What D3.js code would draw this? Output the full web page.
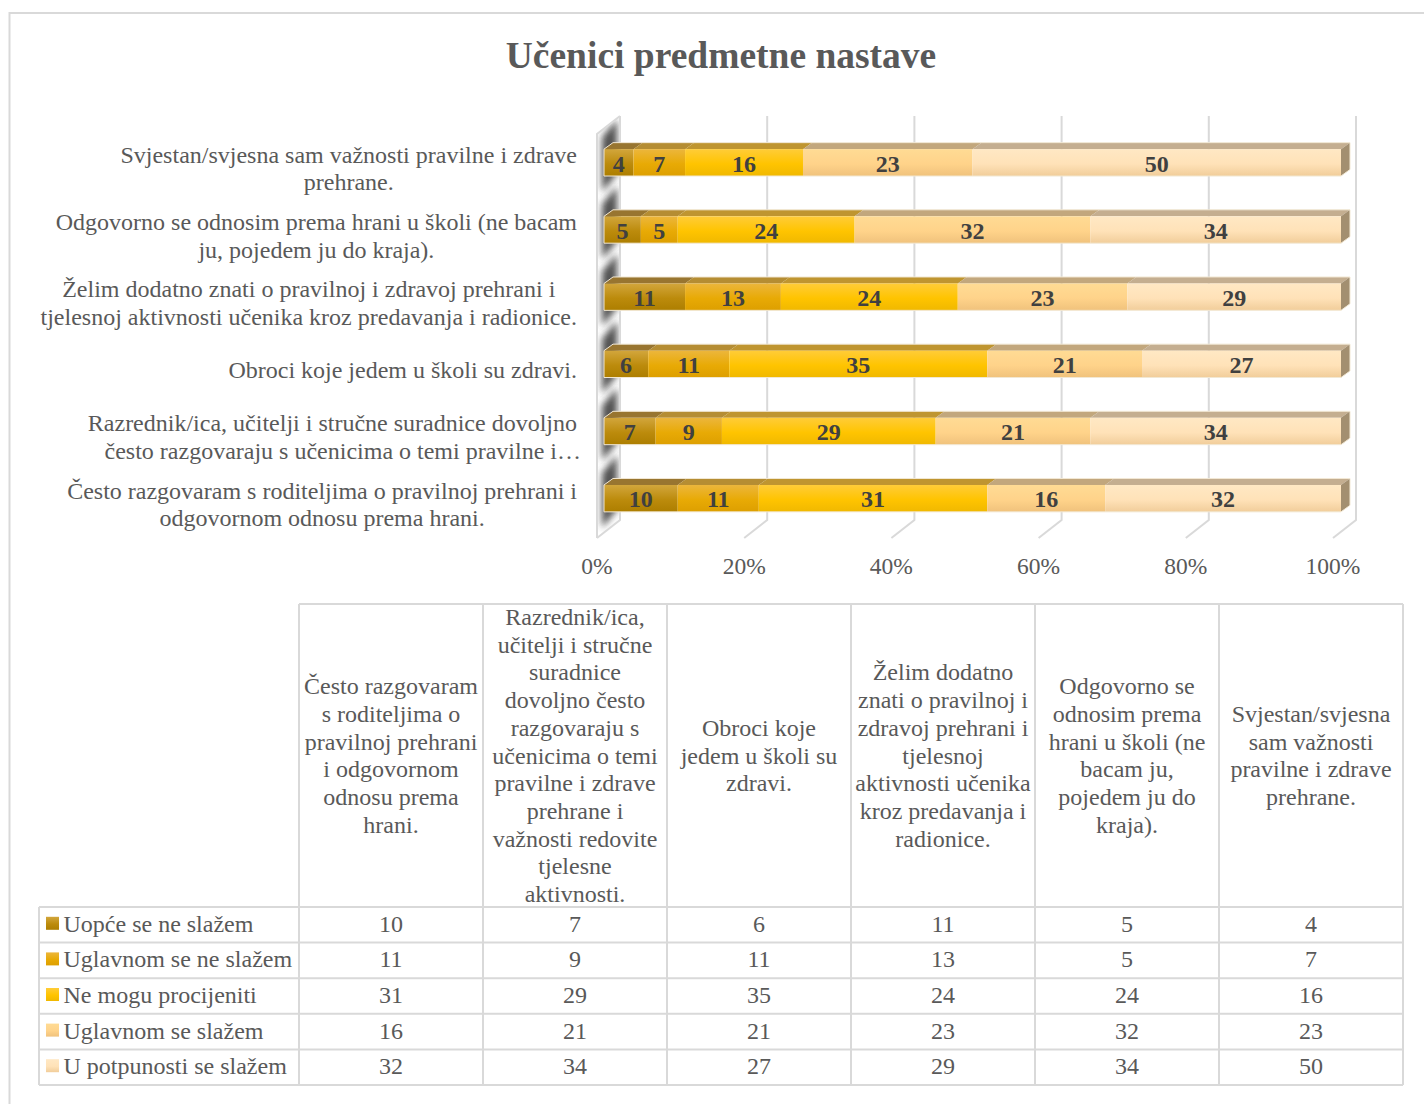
<!DOCTYPE html>
<meta charset="utf-8">
<style>
body { margin: 0; background: #fff; }
text { font-family: "Liberation Serif", serif; fill: #595959; }
.value { font-weight: bold; font-size: 24px; fill: #404040; text-anchor: middle; }
.cat, .cell { font-size: 24px; }
.tick-label { font-size: 23.5px; }
</style>
<body>
<script src="https://d3js.org/d3.v7.min.js"></script>
<script>

var width = 1424,
    height = 1104;

var title = "Učenici predmetne nastave";

var seriesNames = ["Uopće se ne slažem", "Uglavnom se ne slažem", "Ne mogu procijeniti", "Uglavnom se slažem", "U potpunosti se slažem"];

// top to bottom, as drawn in the chart
var uopce = [4, 5, 11, 6, 7, 10];
var uglavnomNe = [7, 5, 13, 11, 9, 11];
var neMogu = [16, 24, 24, 35, 29, 31];
var uglavnomDa = [23, 32, 23, 21, 21, 16];
var potpuno = [50, 34, 29, 27, 34, 32];
var seriesValues = [uopce, uglavnomNe, neMogu, uglavnomDa, potpuno];

var catLines = [
  ["Svjestan/svjesna sam važnosti pravilne i zdrave", "prehrane."],
  ["Odgovorno se odnosim prema hrani u školi (ne bacam", "ju, pojedem ju do kraja)."],
  ["Želim dodatno znati o pravilnoj i zdravoj prehrani i", "tjelesnoj aktivnosti učenika kroz predavanja i radionice."],
  ["Obroci koje jedem u školi su zdravi."],
  ["Razrednik/ica, učitelji i stručne suradnice dovoljno", "često razgovaraju s učenicima o temi pravilne i…"],
  ["Često razgovaram s roditeljima o pravilnoj prehrani i", "odgovornom odnosu prema hrani."]
];

// table columns run bottom to top of the chart
var headerLines = [
  ["Često razgovaram", "s roditeljima o", "pravilnoj prehrani", "i odgovornom", "odnosu prema", "hrani."],
  ["Razrednik/ica,", "učitelji i stručne", "suradnice", "dovoljno često", "razgovaraju s", "učenicima o temi", "pravilne i zdrave", "prehrane i", "važnosti redovite", "tjelesne", "aktivnosti."],
  ["Obroci koje", "jedem u školi su", "zdravi."],
  ["Želim dodatno", "znati o pravilnoj i", "zdravoj prehrani i", "tjelesnoj", "aktivnosti učenika", "kroz predavanja i", "radionice."],
  ["Odgovorno se", "odnosim prema", "hrani u školi (ne", "bacam ju,", "pojedem ju do", "kraja)."],
  ["Svjestan/svjesna", "sam važnosti", "pravilne i zdrave", "prehrane."]
];

var ticks = [0, 20, 40, 60, 80, 100];

var frontColors = [
  ["#d2a63c", "#bc8b0c", "#ad7e00"],
  ["#ecb63c", "#e8aa05", "#dd9f00"],
  ["#ffcc38", "#ffc400", "#f0b800"],
  ["#ffdb94", "#ffd38a", "#f0c27c"],
  ["#ffe8c4", "#ffe2b8", "#f1cd9a"]
];
var topColors = ["#987530", "#b58d33", "#bf9530", "#c2a77d", "#c4ae90"];

var svg = d3.select("body").append("svg")
    .attr("width", width)
    .attr("height", height)
    .style("display", "block");

var defs = svg.append("defs");

frontColors.forEach(function(c, i) {
  var g = defs.append("linearGradient").attr("id", "front" + i)
      .attr("x1", 0).attr("y1", 0).attr("x2", 0).attr("y2", 1);
  g.append("stop").attr("offset", "0").attr("stop-color", c[0]);
  g.append("stop").attr("offset", "0.55").attr("stop-color", c[1]);
  g.append("stop").attr("offset", "1").attr("stop-color", c[2]);
});

defs.append("filter").attr("id", "blur").attr("x", "-50%").attr("y", "-50%").attr("width", "200%").attr("height", "200%")
  .append("feGaussianBlur").attr("stdDeviation", 3.5);

// chart frame
svg.append("path")
    .attr("d", "M9.5,1104V13H1424")
    .attr("fill", "none")
    .attr("stroke", "#d9d9d9")
    .attr("stroke-width", 2);

svg.append("text")
    .attr("x", 721)
    .attr("y", 68)
    .attr("text-anchor", "middle")
    .style("font-size", "37.5px")
    .style("font-weight", "bold")
    .text(title);

// x is the front edge of the bars, the axis sits on the floor a bit to the left
var x = d3.scaleLinear().domain([0, 100]).range([604, 1341]);
var axisX = d3.scaleLinear().domain([0, 100]).range([597, 1333]);
var y = d3.scaleBand().domain(d3.range(6)).range([129, 532]).paddingInner(0.6).paddingOuter(0.3);

var dx = 9, dy = -6.5;     // bar depth
var wallDx = 23, wallDy = -18; // floor depth

var floorBottom = 538, wallTop = 134;

// left wall
var wall = svg.append("g");
wall.append("clipPath").attr("id", "wallClip").append("path")
    .attr("d", "M" + axisX(0) + "," + wallTop + "L" + (axisX(0) + wallDx) + "," + (wallTop + wallDy) +
      "V" + (floorBottom + wallDy) + "L" + axisX(0) + "," + floorBottom + "Z");

// bar shadows run along the slant of the wall
wall.append("g").attr("clip-path", "url(#wallClip)")
  .selectAll("path").data(d3.range(6)).enter().append("path")
    .attr("d", function(d) {
      var left = axisX(0) + 5, right = axisX(0) + wallDx - 3;
      var top = y(d) - 12, bottom = y(d) + y.bandwidth() + 16;
      return "M" + left + "," + top + "L" + right + "," + (top + wallDy) +
        "V" + (bottom + wallDy) + "L" + left + "," + bottom + "Z";
    })
    .attr("fill", "#3c3c3c")
    .attr("opacity", 0.9)
    .attr("filter", "url(#blur)");

// grid: back wall line plus the slant across the floor
svg.append("g").selectAll("path").data(ticks).enter().append("path")
    .attr("d", function(d) {
      return "M" + (axisX(d) + wallDx) + "," + (wallTop + wallDy) +
        "V" + (floorBottom + wallDy) + "L" + axisX(d) + "," + floorBottom;
    })
    .attr("fill", "none")
    .attr("stroke", "#d9d9d9")
    .attr("stroke-width", 2);

svg.append("path")
    .attr("d", "M" + axisX(0) + "," + floorBottom + "V" + wallTop + "L" + (axisX(0) + wallDx) + "," + (wallTop + wallDy))
    .attr("fill", "none")
    .attr("stroke", "#d9d9d9")
    .attr("stroke-width", 2);

// stacked bars
var rows = svg.append("g").selectAll("g").data(d3.range(6)).enter().append("g");

rows.each(function(row) {
  var g = d3.select(this), start = 0, top = y(row), bw = y.bandwidth();
  seriesValues.forEach(function(values, i) {
    var v = values[row], x0 = x(start), x1 = x(start + v);
    g.append("path")
        .attr("d", "M" + x0 + "," + top + "L" + (x0 + dx) + "," + (top + dy) + "H" + (x1 + dx) + "L" + x1 + "," + top + "Z")
        .attr("fill", topColors[i]);
    g.append("rect")
        .attr("x", x0)
        .attr("y", top)
        .attr("width", x1 - x0)
        .attr("height", bw)
        .attr("fill", "url(#front" + i + ")");
    start += v;
  });
  g.append("path")
      .attr("d", "M" + x(100) + "," + top + "l" + dx + "," + dy + "v" + bw + "l" + (-dx) + "," + (-dy) + "Z")
      .attr("fill", "#a38f70");
  // pale rim round the bar
  g.append("path")
      .attr("d", "M" + x(0) + "," + top + "L" + (x(0) + dx) + "," + (top + dy) + "H" + (x(100) + dx) + "v" + bw +
        "L" + x(100) + "," + (top + bw) + "H" + x(0) + "Z")
      .attr("fill", "none")
      .attr("stroke", "#f2e8d4")
      .attr("stroke-width", 1);
  // labels go on top so a neighbour never covers them
  start = 0;
  seriesValues.forEach(function(values) {
    var v = values[row];
    g.append("text")
        .attr("class", "value")
        .attr("x", x(start + v / 2))
        .attr("y", top + bw / 2 + 9)
        .text(v);
    start += v;
  });
});

// category labels
catLines.forEach(function(lines, row) {
  var mid = y(row) + y.bandwidth() / 2 + 6;
  var g = svg.append("g").attr("class", "cat");
  var texts = g.selectAll("text").data(lines).enter().append("text")
      .attr("y", function(d, i) { return mid + 8 + (i - (lines.length - 1) / 2) * 27.7; })
      .text(function(d) { return d; });
  var w = d3.max(texts.nodes(), function(n) { return n.getComputedTextLength(); });
  texts.attr("x", function(d) { return d.endsWith("…") ? 581 : 577 - w / 2; })
      .attr("text-anchor", function(d) { return d.endsWith("…") ? "end" : "middle"; });
});

svg.append("g").selectAll("text").data(ticks).enter().append("text")
    .attr("class", "tick-label")
    .attr("x", function(d) { return axisX(d); })
    .attr("y", 574)
    .attr("text-anchor", "middle")
    .text(function(d) { return d + "%"; });

// data table
var colX = d3.scaleBand().domain(d3.range(6)).range([299, 1403]);
var rowY = d3.scaleBand().domain(d3.range(5)).range([907, 1085]);
var headerTop = 604;

var grid = svg.append("g").attr("fill", "none").attr("stroke", "#d9d9d9").attr("stroke-width", 2);
d3.range(7).forEach(function(i) {
  var px = 299 + i * colX.bandwidth();
  grid.append("line").attr("x1", px).attr("x2", px).attr("y1", headerTop).attr("y2", 1085);
});
grid.append("line").attr("x1", 299).attr("x2", 1403).attr("y1", headerTop).attr("y2", headerTop);
d3.range(6).forEach(function(i) {
  var py = 907 + i * rowY.bandwidth();
  grid.append("line").attr("x1", 39).attr("x2", 1403).attr("y1", py).attr("y2", py);
});
grid.append("line").attr("x1", 39).attr("x2", 39).attr("y1", 907).attr("y2", 1085);

headerLines.forEach(function(lines, col) {
  var cx = colX(col) + colX.bandwidth() / 2,
      cy = (headerTop + 907) / 2;
  svg.append("g").selectAll("text").data(lines).enter().append("text")
      .attr("class", "cell")
      .attr("x", cx)
      .attr("y", function(d, i) { return cy + 8 + (i - (lines.length - 1) / 2) * 27.7; })
      .attr("text-anchor", "middle")
      .text(function(d) { return d; });
});

seriesNames.forEach(function(name, i) {
  var cy = rowY(i) + rowY.bandwidth() / 2;
  svg.append("rect")
      .attr("x", 46)
      .attr("y", cy - 8)
      .attr("width", 13)
      .attr("height", 13)
      .attr("fill", "url(#front" + i + ")");
  svg.append("text")
      .attr("class", "cell")
      .attr("x", 63.5)
      .attr("y", cy + 7)
      .text(name);
  // table columns are the chart rows reversed
  d3.range(6).forEach(function(col) {
    svg.append("text")
        .attr("class", "cell")
        .attr("x", colX(col) + colX.bandwidth() / 2)
        .attr("y", cy + 7)
        .attr("text-anchor", "middle")
        .text(seriesValues[i][5 - col]);
  });
});
</script>
